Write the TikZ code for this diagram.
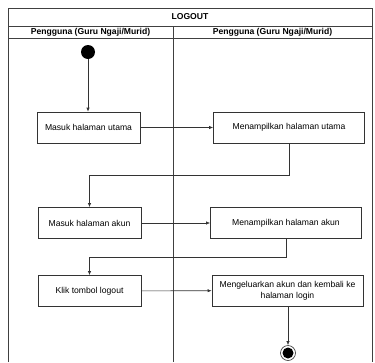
\documentclass[tikz,border=0pt]{standalone}
\usepackage{fontspec}
\setmainfont{Liberation Sans}
\usetikzlibrary{arrows.meta}
\begin{document}
\begin{tikzpicture}[x=1pt,y=-1pt,
  lane/.style={draw=black!75, line width=0.6pt},
  act/.style={draw=black!80, line width=0.6pt, fill=white, minimum height=31pt,
    align=center, font=\fontsize{8.6}{11}\selectfont, inner sep=1pt},
  actL/.style={act, minimum width=103pt},
  actR/.style={act, minimum width=151pt},
  hdr/.style={font=\bfseries\fontsize{8.6}{10}\selectfont},
  arr/.style={draw=black!80, line width=0.6pt, -{Latex[length=4pt,width=3.2pt]}}]
\useasboundingbox (0,0) rectangle (375,362);
% swimlane frame
\draw[lane] (8,362) -- (8,8) -- (372,8) -- (372,362);
\draw[lane] (8,26) -- (372,26);
\draw[lane] (8,38) -- (372,38);
\draw[lane] (173,26) -- (173,362);
\node[hdr] (title) at (190,17) {LOGOUT};
\node[hdr] (laneA) at (90.5,32) {Pengguna (Guru Ngaji/Murid)};
\node[hdr] (laneB) at (272.5,32) {Pengguna (Guru Ngaji/Murid)};
% start and end
\node[circle, fill=black, minimum size=14pt, inner sep=0pt] (start) at (88,52) {};
\node[circle, draw=black!80, line width=0.6pt, fill=white, minimum size=15pt, inner sep=0pt] (end) at (288,353) {};
\node[circle, fill=black, minimum size=11pt, inner sep=0pt] (endin) at (end.center) {};
% activities
\node[actL] (b1) at (88.5,127.5) {Masuk halaman utama};
\node[actR] (b2) at (289,127.5) {Menampilkan halaman utama};
\node[actL] (b3) at (89.5,223) {Masuk halaman akun};
\node[actR] (b4) at (286,223) {Menampilkan halaman akun};
\node[actL] (b5) at (89.5,291) {Klik tombol logout};
\node[actR] (b6) at (287.5,290.5) {Mengeluarkan akun dan kembali ke\\halaman login};
% flow
\draw[arr] (start) -- (b1.north -| start);
\draw[arr] (b1) -- (b2);
\coordinate (k1) at (289,175);
\draw[arr] (b2.south) -- (k1) -| (b3.north);
\draw[arr] (b3) -- (b4);
\coordinate (k2) at (286,257);
\draw[arr] (b4.south) -- (k2) -| (b5.north);
\draw[arr] (b5) -- (b6);
\draw[arr] (b6.south -| end) -- (end.north);
\end{tikzpicture}
\end{document}
